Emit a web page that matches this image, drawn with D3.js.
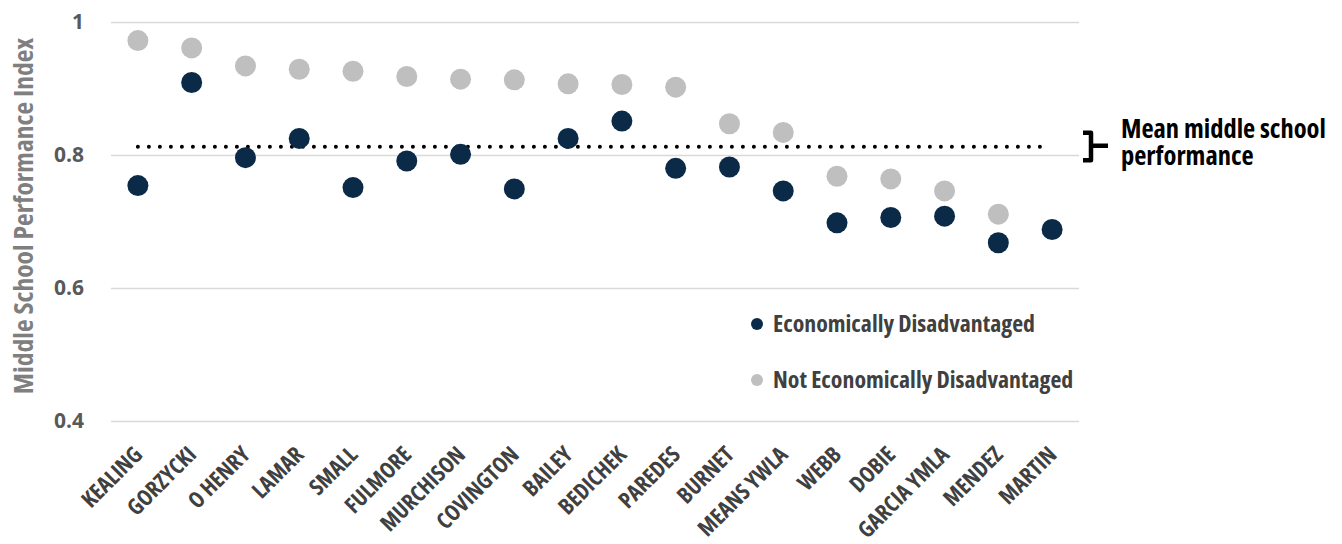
<!DOCTYPE html>
<html>
<head>
<meta charset="utf-8">
<script src="https://cdn.jsdelivr.net/npm/d3@7"></script>
<style>
  html, body { margin: 0; padding: 0; background: #ffffff; }
  svg text { font-family: "Open Sans", "Liberation Sans Narrow", sans-serif; font-stretch: 75%; font-weight: 700; }
</style>
</head>
<body>
<svg id="chart" width="1342" height="544"></svg>
<script>
// Middle school performance index by campus
const schools = ["KEALING", "GORZYCKI", "O HENRY", "LAMAR", "SMALL", "FULMORE", "MURCHISON",
  "COVINGTON", "BAILEY", "BEDICHEK", "PAREDES", "BURNET", "MEANS YWLA", "WEBB", "DOBIE",
  "GARCIA YMLA", "MENDEZ", "MARTIN"];
const econDisadvantaged = [0.754, 0.909, 0.796, 0.825, 0.751, 0.791, 0.801, 0.749, 0.825,
  0.851, 0.780, 0.782, 0.746, 0.698, 0.706, 0.708, 0.668, 0.688];
const notEconDisadvantaged = [0.972, 0.961, 0.934, 0.929, 0.926, 0.918, 0.914, 0.913, 0.907,
  0.906, 0.902, 0.847, 0.834, 0.768, 0.764, 0.746, 0.711, null];
const meanPerformance = 0.8125;
const yTicks = [0.4, 0.6, 0.8, 1];
const seriesNames = ["Economically Disadvantaged", "Not Economically Disadvantaged"];
const seriesColors = ["#0b2a47", "#bfbfbf"];

const svg = d3.select("#chart");
const plotLeft = 111, plotRight = 1079, plotTop = 22, plotBottom = 421;

const x = d3.scaleBand().domain(schools).range([plotLeft, plotRight]);
const y = d3.scaleLinear().domain([0.4, 1]).range([plotBottom, plotTop]);
const cx = s => x(s) + x.bandwidth() / 2;

// Gridlines and y tick labels
const yAxis = d3.axisLeft(y).tickValues(yTicks).tickSize(-(plotRight - plotLeft))
  .tickFormat(d => d === 1 ? "1" : d3.format(".1f")(d)).tickPadding(27);
const gy = svg.append("g").attr("transform", `translate(${plotLeft},0)`).call(yAxis);
gy.select(".domain").remove();
gy.selectAll(".tick line").attr("stroke", "#d9d9d9").attr("stroke-width", 1.5);
gy.selectAll(".tick text").attr("fill", "#595959")
  .style("font-size", "21px").style("font-stretch", "90%")
  .attr("dy", "0.33em");

// Y axis title
svg.append("text")
  .attr("transform", `translate(33,216) rotate(-90)`)
  .attr("text-anchor", "middle")
  .attr("fill", "#7f7f7f")
  .style("font-size", "27.5px")
  .text("Middle School Performance Index");

// X category labels, rotated
const xAxis = d3.axisBottom(x).tickSize(0).tickPadding(0);
const gx = svg.append("g").attr("transform", `translate(0,${plotBottom})`).call(xAxis);
gx.select(".domain").remove();
gx.selectAll(".tick text")
  .attr("fill", "#404040")
  .style("font-size", "22.5px")
  .attr("text-anchor", "end")
  .attr("dy", null)
  .attr("y", null)
  .attr("transform", "translate(6,35) rotate(-45)");

// Mean line (dotted)
const first = schools[0], last = schools[schools.length - 1];
svg.append("line")
  .attr("x1", cx(first))
  .attr("x2", cx(last) - 8)
  .attr("y1", y(meanPerformance)).attr("y2", y(meanPerformance))
  .attr("stroke", "#000")
  .attr("stroke-width", 4)
  .attr("stroke-linecap", "round")
  .attr("stroke-dasharray", "0 11");

// Series markers
const r = 10.5;
const seriesData = [econDisadvantaged, notEconDisadvantaged];
[1, 0].forEach(si => {
  svg.append("g").selectAll("circle")
    .data(schools.map((s, i) => ({ s, v: seriesData[si][i] })).filter(d => d.v != null))
    .join("circle")
    .attr("cx", d => cx(d.s))
    .attr("cy", d => y(d.v))
    .attr("r", r)
    .attr("fill", seriesColors[si]);
});

// Legend
const legend = svg.append("g").attr("transform", "translate(757,324)");
seriesNames.forEach((name, i) => {
  const g = legend.append("g").attr("transform", `translate(0,${i * 56})`);
  g.append("circle").attr("r", 6).attr("fill", seriesColors[i]);
  g.append("text").attr("x", 16).attr("dy", "0.34em")
    .attr("fill", "#404040").style("font-size", "23.8px")
    .text(name);
});

// Bracket annotation for the mean line
const ym = y(meanPerformance);
svg.append("path")
  .attr("d", `M1083,${ym - 14} H1091 V${ym + 13.5} H1083 M1091,${ym - 1} H1108`)
  .attr("fill", "none").attr("stroke", "#000").attr("stroke-width", 4.5)
  .attr("stroke-linejoin", "round");
const note = svg.append("text").attr("x", 1121).attr("y", ym - 9)
  .attr("fill", "#000").style("font-size", "26.5px");
note.append("tspan").attr("x", 1121).text("Mean middle school");
note.append("tspan").attr("x", 1121).attr("dy", 27).text("performance");
</script>
</body>
</html>
